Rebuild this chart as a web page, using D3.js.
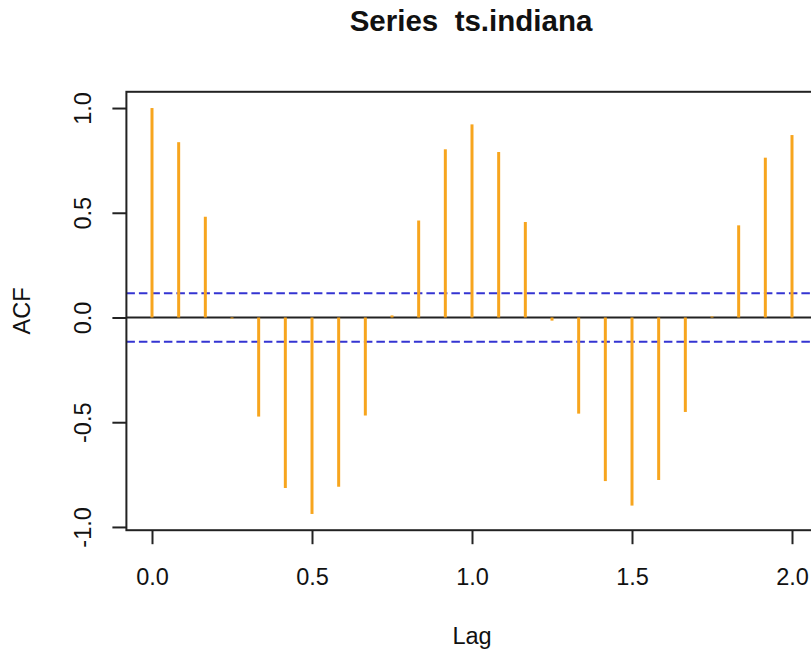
<!DOCTYPE html>
<html>
<head>
<meta charset="utf-8">
<script src="https://cdn.jsdelivr.net/npm/d3@7"></script>
<style>
  html, body { margin: 0; padding: 0; background: #fff; }
  svg text { font-family: "Liberation Sans", Arial, Helvetica, sans-serif; fill: #111; }
</style>
</head>
<body>
<svg id="chart" width="811" height="653"></svg>
<script>
// Autocorrelation of the monthly series, lags in years (k/12)
const lagSteps = d3.range(0, 25);
const lags = lagSteps.map(k => k / 12);
const acfValues = [
  1.000, 0.837, 0.481, -0.005, -0.473, -0.814, -0.938, -0.808, -0.468,
  0.010, 0.463, 0.803, 0.922, 0.790, 0.456, -0.015, -0.459, -0.781,
  -0.898, -0.776, -0.451, 0.005, 0.440, 0.763, 0.871
];
// 95% confidence bound (±1.96/sqrt(n))
const confBound = 0.1155;
const xTickValues = [0.0, 0.5, 1.0, 1.5, 2.0];
const yTickValues = [-1.0, -0.5, 0.0, 0.5, 1.0];
const titleText = "Series  ts.indiana";
const xLabel = "Lag";
const yLabel = "ACF";

const svg = d3.select("#chart");
const plot = { left: 126.4, right: 817.6, top: 91.8, bottom: 530.2 };

// extend data ranges by 4% on each side, as base graphics do
function padded(lo, hi) {
  const d = (hi - lo) * 0.04;
  return [lo - d, hi + d];
}
const xExt = d3.extent(lags);
const yExt = d3.extent(acfValues.concat([confBound, -confBound]));

const x = d3.scaleLinear().domain(padded(xExt[0], xExt[1])).range([plot.left, plot.right]);
const y = d3.scaleLinear().domain(padded(yExt[0], yExt[1])).range([plot.bottom, plot.top]);

// one decimal, plain hyphen for negatives
const fmt = d3.formatLocale({ decimal: ".", thousands: ",", grouping: [3], currency: ["", ""], minus: "-" }).format(".1f");
const fontSize = 23.5;

// zero line
svg.append("line")
  .attr("x1", plot.left).attr("x2", plot.right)
  .attr("y1", y(0)).attr("y2", y(0))
  .attr("stroke", "#222").attr("stroke-width", 2);

// confidence bounds
[confBound, -confBound].forEach(c => {
  svg.append("line")
    .attr("x1", plot.left).attr("x2", plot.right)
    .attr("y1", y(c)).attr("y2", y(c))
    .attr("stroke", "#3434d2").attr("stroke-width", 2)
    .attr("stroke-dasharray", "8.5,4");
});

// ACF spikes
svg.append("g").selectAll("line")
  .data(acfValues)
  .join("line")
  .attr("x1", (d, i) => x(lags[i])).attr("x2", (d, i) => x(lags[i]))
  .attr("y1", y(0)).attr("y2", d => y(d))
  .attr("stroke", "#F7A51E").attr("stroke-width", 3);

// plot box
svg.append("rect")
  .attr("x", plot.left).attr("y", plot.top)
  .attr("width", plot.right - plot.left).attr("height", plot.bottom - plot.top)
  .attr("fill", "none").attr("stroke", "#222").attr("stroke-width", 2);

// x axis
const xAxis = svg.append("g")
  .attr("transform", `translate(0,${plot.bottom})`)
  .call(d3.axisBottom(x).tickValues(xTickValues).tickFormat(fmt)
    .tickSize(14).tickSizeOuter(0).tickPadding(24));
xAxis.select(".domain").remove();
xAxis.selectAll(".tick line").attr("stroke", "#222").attr("stroke-width", 2);
xAxis.selectAll(".tick text")
  .attr("font-size", fontSize).attr("fill", "#111")
  .style("font-family", '"Liberation Sans", Arial, sans-serif');

// y axis with rotated labels
const yAxis = svg.append("g")
  .attr("transform", `translate(${plot.left},0)`)
  .call(d3.axisLeft(y).tickValues(yTickValues).tickFormat(fmt)
    .tickSize(14).tickSizeOuter(0));
yAxis.select(".domain").remove();
yAxis.selectAll(".tick line").attr("stroke", "#222").attr("stroke-width", 2);
yAxis.selectAll(".tick text")
  .attr("x", null).attr("dy", null)
  .attr("text-anchor", "middle")
  .attr("transform", "translate(-35,0) rotate(-90)")
  .attr("font-size", fontSize).attr("fill", "#111")
  .style("font-family", '"Liberation Sans", Arial, sans-serif');

// titles
const midX = (plot.left + plot.right) / 2;
const midY = (plot.top + plot.bottom) / 2;

svg.append("text")
  .attr("x", midX - 1).attr("y", 31)
  .attr("text-anchor", "middle")
  .attr("font-size", 29.5).attr("font-weight", "bold")
  .style("white-space", "pre")
  .text(titleText);

svg.append("text")
  .attr("x", midX).attr("y", 644)
  .attr("text-anchor", "middle")
  .attr("font-size", fontSize)
  .text(xLabel);

svg.append("text")
  .attr("transform", `translate(30,${midY}) rotate(-90)`)
  .attr("text-anchor", "middle")
  .attr("font-size", fontSize)
  .text(yLabel);
</script>
</body>
</html>
